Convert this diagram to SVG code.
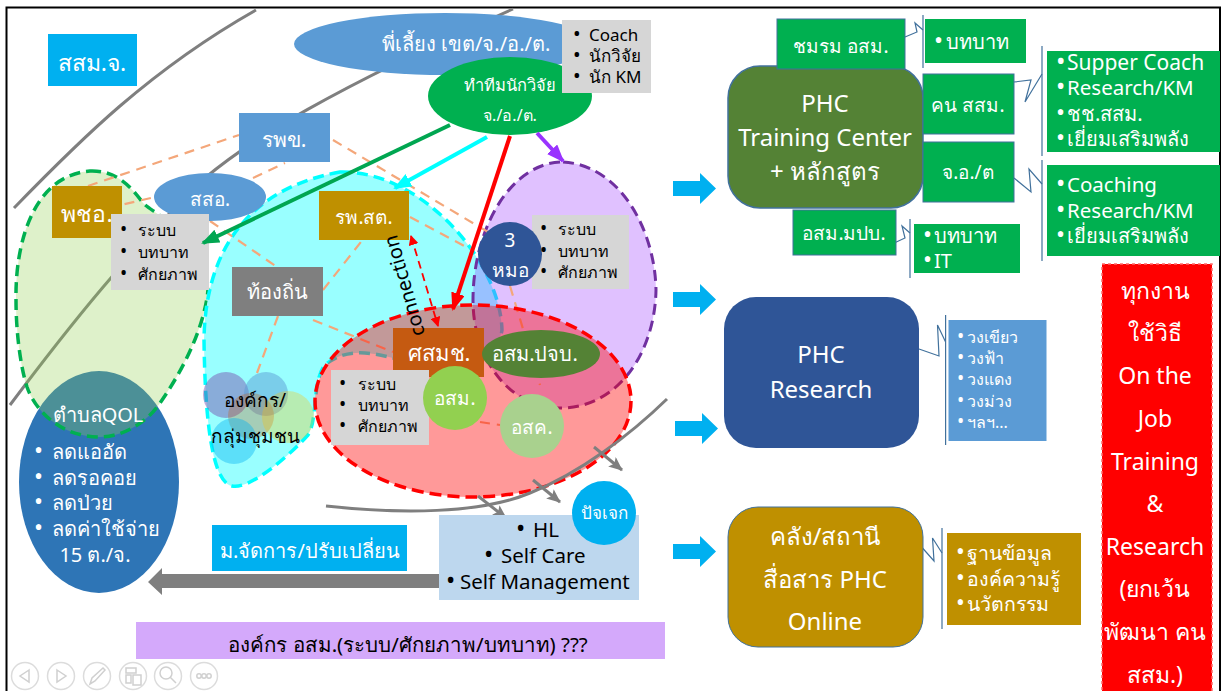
<svg xmlns="http://www.w3.org/2000/svg" width="1222" height="691" viewBox="0 0 1222 691">
<style>
text{font-family:"Noto Sans","Open Sans","DejaVu Sans",sans-serif;fill:#000}
.w{fill:#fff}
.m{text-anchor:middle}
.b{font-size:1.200em}
.curve{fill:none;stroke:#7f7f7f;stroke-width:3}
.or{stroke:#f4a77a;stroke-width:2.200;stroke-dasharray:10 7;fill:none}
.grey{fill:#d6d6d6}
.gr{fill:#00b050}
.call{fill:none;stroke:#41719c;stroke-width:1.200}
.bar{stroke:#41719c;stroke-width:1.200}
.tool{fill:#fff;stroke:#dcdcdc;stroke-width:1.500}
.ico{fill:none;stroke:#d0d0d0;stroke-width:1.500}
.ga{stroke:#7f7f7f;stroke-width:3;fill:none;marker-end:url(#gh)}
</style>
<defs>
<marker id="gh" markerUnits="userSpaceOnUse" markerWidth="14" markerHeight="12" refX="13" refY="6" orient="auto"><path d="M0,0L14,6L0,12L3,6Z" fill="#7f7f7f"/></marker>
<marker id="ggreen" markerUnits="userSpaceOnUse" markerWidth="18" markerHeight="14" refX="16" refY="7" orient="auto"><path d="M0,0L18,7L0,14Z" fill="#00a651"/></marker>
<marker id="gcyan" markerUnits="userSpaceOnUse" markerWidth="18" markerHeight="14" refX="16" refY="7" orient="auto"><path d="M0,0L18,7L0,14Z" fill="#00ffff"/></marker>
<marker id="gred" markerUnits="userSpaceOnUse" markerWidth="18" markerHeight="14" refX="16" refY="7" orient="auto"><path d="M0,0L18,7L0,14Z" fill="#ff0000"/></marker>
<marker id="gpur" markerUnits="userSpaceOnUse" markerWidth="18" markerHeight="14" refX="16" refY="7" orient="auto"><path d="M0,0L18,7L0,14Z" fill="#9933ff"/></marker>
<marker id="rs" markerUnits="userSpaceOnUse" markerWidth="10" markerHeight="10" refX="9" refY="5" orient="auto"><path d="M0,0L10,5L0,10Z" fill="#ff0000"/></marker>
<marker id="rb" markerUnits="userSpaceOnUse" markerWidth="10" markerHeight="10" refX="1" refY="5" orient="auto"><path d="M10,0L0,5L10,10Z" fill="#ff0000"/></marker>
<path id="ba" d="M0,8H27V0L43,15.500L27,31V23H0Z" fill="#00b0f0"/>
</defs>
<rect width="1222" height="691" fill="#fff"/>
<path d="M6.500,691V7.500H1220V691" fill="none" stroke="#000" stroke-width="2"/>

<g id="background-curves">
<path class="curve" d="M14,208C80,140 150,70 256,10"/>
<path class="curve" d="M10,405C70,325 130,250 205,178C250,140 330,90 513,9"/>
</g>

<g id="node-qol-ellipse"><ellipse cx="99" cy="482" rx="80" ry="111" fill="#2e75b6"/></g>
<g id="node-green-area"><path d="M90,171C115,170 130,185 143,203C155,215 190,225 208,290C205,320 190,360 160,403C145,425 120,437 100,437C60,437 35,410 27,387C20,365 16,330 16,300C15,240 35,175 90,171Z" fill="#92d050" fill-opacity=".3" stroke="#00b050" stroke-width="3.500" stroke-dasharray="11 6"/></g>
<g id="node-cyan-area"><path d="M340,172C420,170 500,260 502,330C500,345 480,360 440,362L393,358C370,352 345,348 325,365C312,380 318,420 308,435C290,455 250,490 232,486C212,482 205,420 204,340C205,260 240,190 340,172Z" fill="#99ffff" stroke="#00ffff" stroke-width="3.500" stroke-dasharray="11 6"/></g>
<g id="node-purple-area"><path d="M563,162C620,165 655,230 656,290C655,350 620,408 560,408C510,408 473,360 473,300C473,230 510,162 563,162Z" fill="#9933ff" fill-opacity=".3" stroke="#7030a0" stroke-width="3" stroke-dasharray="11 6"/></g>

<g id="connectors-dashed">
<path class="or" d="M88,186L239,135"/>
<path class="or" d="M108,208L155,197"/>
<path class="or" d="M253,178L285,163"/>
<path class="or" d="M333,140L488,232"/>
<path class="or" d="M210,221L277,267"/>
<path class="or" d="M323,290L368,233"/>
<path class="or" d="M278,316L257,373"/>
<path class="or" d="M313,320L393,352"/>
<path class="or" d="M410,217L472,250"/>
<path class="or" d="M510,286L540,385"/>
<path class="or" d="M480,422L500,425"/>
</g>

<g id="node-red-area"><ellipse cx="473" cy="401" rx="158" ry="96" fill="#ff0000" fill-opacity=".4" stroke="#ff0000" stroke-width="3.500" stroke-dasharray="12 6"/></g>

<g id="node-sorsomjor"><rect x="48" y="34" width="89" height="52" fill="#00b0f0"/><text class="w m" x="92" y="71" font-size="23">สสม.จ.</text></g>
<g id="node-phiilieng"><ellipse cx="445" cy="44" rx="151" ry="31" fill="#5b9bd5"/><text class="w m" x="466" y="51" font-size="20">พี่เลี้ยง เขต/จ./อ./ต.</text></g>
<g id="node-team"><ellipse cx="510" cy="96" rx="82" ry="39" fill="#00b050"/><text class="w m" x="510" y="91" font-size="16.500">ทำทีมนักวิจัย</text><text class="w m" x="510" y="121" font-size="16">จ./อ./ต.</text></g>
<g id="node-coach"><rect x="562" y="20" width="89" height="73" class="grey"/><text x="573" y="41" font-size="17"><tspan class="b">•</tspan><tspan x="589">Coach</tspan></text><text x="573" y="62" font-size="17"><tspan class="b">•</tspan><tspan x="589">นักวิจัย</tspan></text><text x="573" y="83" font-size="17"><tspan class="b">•</tspan><tspan x="589">นัก KM</tspan></text></g>
<g id="node-rpk"><rect x="239" y="113" width="91" height="49" fill="#5b9bd5"/><text class="w m" x="284" y="147" font-size="21">รพข.</text></g>
<g id="node-sso"><ellipse cx="210" cy="197" rx="56" ry="24" fill="#5b9bd5"/><text class="w m" x="210" y="206" font-size="19">สสอ.</text></g>
<g id="node-phcho"><rect x="52" y="186" width="70" height="52" fill="#bf9000"/><text class="w m" x="87" y="222" font-size="23">พชอ.</text></g>
<g id="node-bullets-1"><rect x="111" y="214" width="98" height="76" class="grey"/><text x="120" y="236" font-size="16"><tspan class="b">•</tspan><tspan x="138">ระบบ</tspan></text><text x="120" y="258" font-size="16"><tspan class="b">•</tspan><tspan x="138">บทบาท</tspan></text><text x="120" y="280" font-size="16"><tspan class="b">•</tspan><tspan x="138">ศักยภาพ</tspan></text></g>
<g id="node-rpsot"><rect x="319" y="191" width="90" height="49" fill="#bf9000"/><text class="w m" x="364" y="224" font-size="19">รพ.สต.</text></g>
<g id="node-local"><rect x="232" y="267" width="91" height="49" fill="#7f7f7f"/><text class="w m" x="277" y="299" font-size="20">ท้องถิ่น</text></g>
<g id="node-bullets-2-box"><rect x="532" y="215" width="97" height="74" class="grey"/></g>
<g id="node-3mor"><circle cx="510" cy="254" r="32" fill="#2f5597"/><text class="w m" x="510" y="247" font-size="19">3</text><text class="w m" x="510" y="277" font-size="19">หมอ</text></g>
<g id="node-bullets-2"><text x="540" y="235" font-size="16"><tspan class="b">•</tspan><tspan x="558">ระบบ</tspan></text><text x="540" y="257" font-size="16"><tspan class="b">•</tspan><tspan x="558">บทบาท</tspan></text><text x="540" y="278" font-size="16"><tspan class="b">•</tspan><tspan x="558">ศักยภาพ</tspan></text></g>

<g id="node-community">
<circle cx="226" cy="395" r="23" fill="#7030a0" fill-opacity=".4"/>
<circle cx="266" cy="394" r="22" fill="#5b9bd5" fill-opacity=".5"/>
<circle cx="251" cy="416" r="23" fill="#c55a11" fill-opacity=".3"/>
<circle cx="288" cy="417" r="26" fill="#ffc000" fill-opacity=".3"/>
<circle cx="234" cy="441" r="23" fill="#00b0f0" fill-opacity=".4"/>
<text class="m" x="255" y="407" font-size="19">องค์กร/</text>
<text class="m" x="255" y="443" font-size="19">กลุ่มชุมชน</text>
</g>

<g id="node-ossomchor"><rect x="393" y="328" width="91" height="49" fill="#c55a11"/><text class="w m" x="439" y="361" font-size="22">ศสมช.</text></g>
<g id="node-osm-pjb"><ellipse cx="541" cy="354" rx="59" ry="24" fill="#548235"/><text class="w m" x="535" y="361" font-size="20">อสม.ปจบ.</text></g>
<g id="node-bullets-3"><rect x="331" y="370" width="98" height="75" class="grey"/><text x="339" y="390" font-size="16"><tspan class="b">•</tspan><tspan x="358">ระบบ</tspan></text><text x="339" y="411" font-size="16"><tspan class="b">•</tspan><tspan x="358">บทบาท</tspan></text><text x="339" y="432" font-size="16"><tspan class="b">•</tspan><tspan x="358">ศักยภาพ</tspan></text></g>
<g id="node-osm"><circle cx="455" cy="398" r="32" fill="#92d050"/><text class="w m" x="455" y="405" font-size="19">อสม.</text></g>
<g id="node-osk"><circle cx="532" cy="426" r="32" fill="#a9d18e"/><text class="w m" x="532" y="434" font-size="19">อสค.</text></g>

<g id="node-qol-text">
<text class="w m" x="98" y="422" font-size="20">ตำบลQOL</text>
<text class="w" x="34" y="459" font-size="20"><tspan class="b">•</tspan><tspan x="52">ลดแออัด</tspan></text>
<text class="w" x="34" y="485" font-size="20"><tspan class="b">•</tspan><tspan x="52">ลดรอคอย</tspan></text>
<text class="w" x="34" y="510" font-size="20"><tspan class="b">•</tspan><tspan x="52">ลดป่วย</tspan></text>
<text class="w" x="34" y="536" font-size="20"><tspan class="b">•</tspan><tspan x="52">ลดค่าใช้จ่าย</tspan></text>
<text class="w m" x="95" y="562" font-size="20">15 ต./จ.</text>
</g>

<g id="connectors">
<path d="M450,125L203,243" stroke="#00a651" stroke-width="4" fill="none" marker-end="url(#ggreen)"/>
<path d="M487,137L395,188" stroke="#00ffff" stroke-width="4" fill="none" marker-end="url(#gcyan)"/>
<path d="M510,136L453,309" stroke="#ff0000" stroke-width="4" fill="none" marker-end="url(#gred)"/>
<path d="M537,133L563,161" stroke="#9933ff" stroke-width="4" fill="none" marker-end="url(#gpur)"/>
<path d="M411,236L438,326" stroke="#ff0000" stroke-width="1.800" stroke-dasharray="8 5" fill="none" marker-start="url(#rb)" marker-end="url(#rs)"/>
<path class="curve" d="M326,506C400,514 480,514 530,493C580,473 630,435 667,399"/>
<path class="ga" d="M478,496L506,518"/>
<path class="ga" d="M533,480L560,502"/>
<path class="ga" d="M594,447L622,470"/>
<path d="M440,574H162V568L148,582L162,595V588H440Z" fill="#7f7f7f"/>
<use href="#ba" x="673" y="173"/>
<use href="#ba" x="673" y="284"/>
<use href="#ba" x="675" y="413"/>
<use href="#ba" x="673" y="536"/>
<path class="call" d="M905,37L917,32L915,23L923,30"/><path class="bar" d="M923,15V68"/>
<path class="call" d="M1014,82L1031,80L1025,102L1042,74"/><path class="bar" d="M1042,46V156"/>
<path class="call" d="M1014,178L1031,192L1029,169L1042,184"/><path class="bar" d="M1042,160V261"/>
<path class="call" d="M892,244L905,238L902,226L910,233"/><path class="bar" d="M910,219V278"/>
<path class="call" d="M919,349L939,356L937.500,325L945.600,342"/><path class="bar" d="M945.600,315V445"/>
<path class="call" d="M921.600,547L934,561L932.500,538L942,553"/><path class="bar" d="M942,528V629"/>
</g>
<text id="label-connection" class="m" transform="translate(411,284) rotate(-106)" font-size="20">connection</text>

<g id="node-manage"><rect x="212" y="525" width="195" height="46" fill="#00b0f0"/><text class="w m" x="310" y="558" font-size="20">ม.จัดการ/ปรับเปลี่ยน</text></g>
<g id="node-self"><rect x="439" y="515" width="200" height="85" fill="#bdd7ee"/><text x="516" y="537" font-size="20.500"><tspan class="b">•</tspan><tspan x="533">HL</tspan></text><text x="484" y="563" font-size="20.500"><tspan class="b">•</tspan><tspan x="501">Self Care</tspan></text><text x="446" y="589" font-size="20.500"><tspan class="b">•</tspan><tspan x="460">Self Management</tspan></text></g>
<g id="node-individual"><circle cx="604" cy="513" r="32" fill="#00b0f0"/><text class="w m" x="604" y="519" font-size="17">ปัจเจก</text></g>
<g id="node-org"><rect x="136" y="622" width="529" height="37" fill="#d4a9fb"/><text class="m" x="408" y="652" font-size="20.500">องค์กร อสม.(ระบบ/ศักยภาพ/บทบาท) ???</text></g>

<g id="node-training"><rect x="728" y="66" width="195" height="142" rx="32" fill="#548235" stroke="#41719c" stroke-width="1.500"/><text class="w m" x="825" y="112" font-size="24">PHC</text><text class="w m" x="825" y="146" font-size="24">Training Center</text><text class="w m" x="825" y="180" font-size="24">+ หลักสูตร</text></g>
<g id="node-club"><rect x="777" y="19" width="128" height="50" class="gr" stroke="#41719c" stroke-width="1"/><text class="w m" x="841" y="53" font-size="19">ชมรม อสม.</text></g>
<g id="node-club-list"><rect x="925" y="19" width="101" height="44" class="gr"/><text class="w" x="934" y="49" font-size="20"><tspan class="b">•</tspan><tspan x="946">บทบาท</tspan></text></g>
<g id="node-staff"><rect x="923" y="74" width="91" height="60" class="gr" stroke="#41719c" stroke-width="1"/><text class="w m" x="968" y="112" font-size="19">คน สสม.</text></g>
<g id="node-staff-list"><rect x="1047" y="51" width="173" height="101" class="gr"/><text class="w" x="1056" y="70" font-size="21"><tspan class="b">•</tspan><tspan x="1067">Supper Coach</tspan></text><text class="w" x="1056" y="95" font-size="20.500"><tspan class="b">•</tspan><tspan x="1067">Research/KM</tspan></text><text class="w" x="1056" y="121" font-size="20"><tspan class="b">•</tspan><tspan x="1067">ชช.สสม.</tspan></text><text class="w" x="1056" y="146" font-size="20"><tspan class="b">•</tspan><tspan x="1067">เยี่ยมเสริมพลัง</tspan></text></g>
<g id="node-district"><rect x="923" y="142" width="91" height="60" class="gr" stroke="#41719c" stroke-width="1"/><text class="w m" x="968" y="179" font-size="19">จ.อ./ต</text></g>
<g id="node-district-list"><rect x="1047" y="165" width="173" height="91" class="gr"/><text class="w" x="1056" y="192" font-size="20.500"><tspan class="b">•</tspan><tspan x="1067">Coaching</tspan></text><text class="w" x="1056" y="218" font-size="20.500"><tspan class="b">•</tspan><tspan x="1067">Research/KM</tspan></text><text class="w" x="1056" y="243" font-size="20"><tspan class="b">•</tspan><tspan x="1067">เยี่ยมเสริมพลัง</tspan></text></g>
<g id="node-mpb"><rect x="793" y="210" width="103" height="45" class="gr" stroke="#41719c" stroke-width="1"/><text class="w m" x="844" y="240" font-size="19">อสม.มปบ.</text></g>
<g id="node-mpb-list"><rect x="914" y="224" width="106" height="49" class="gr"/><text class="w" x="923" y="243" font-size="20"><tspan class="b">•</tspan><tspan x="934">บทบาท</tspan></text><text class="w" x="923" y="268" font-size="20"><tspan class="b">•</tspan><tspan x="934">IT</tspan></text></g>

<g id="node-research"><rect x="724" y="297" width="195" height="151" rx="32" fill="#2f5597"/><text class="w m" x="821" y="363" font-size="24">PHC</text><text class="w m" x="821" y="398" font-size="24">Research</text></g>
<g id="node-research-list"><rect x="948.500" y="320" width="98" height="121" fill="#5b9bd5"/><text class="w" x="957" y="343" font-size="16"><tspan class="b">•</tspan><tspan x="967">วงเขียว</tspan></text><text class="w" x="957" y="364" font-size="16"><tspan class="b">•</tspan><tspan x="967">วงฟ้า</tspan></text><text class="w" x="957" y="385" font-size="16"><tspan class="b">•</tspan><tspan x="967">วงแดง</tspan></text><text class="w" x="957" y="407" font-size="16"><tspan class="b">•</tspan><tspan x="967">วงม่วง</tspan></text><text class="w" x="957" y="428" font-size="16"><tspan class="b">•</tspan><tspan x="967">ฯลฯ...</tspan></text></g>

<g id="node-online"><rect x="728" y="507" width="195" height="140" rx="30" fill="#bf9000" stroke="#41719c" stroke-width="1"/><text class="w m" x="825" y="545" font-size="24">คลัง/สถานี</text><text class="w m" x="825" y="588" font-size="24">สื่อสาร PHC</text><text class="w m" x="825" y="630" font-size="24">Online</text></g>
<g id="node-online-list"><rect x="947" y="533" width="134" height="92" fill="#bf9000"/><text class="w" x="956" y="560" font-size="19.500"><tspan class="b">•</tspan><tspan x="967">ฐานข้อมูล</tspan></text><text class="w" x="956" y="586" font-size="19.500"><tspan class="b">•</tspan><tspan x="967">องค์ความรู้</tspan></text><text class="w" x="956" y="611" font-size="19.500"><tspan class="b">•</tspan><tspan x="967">นวัตกรรม</tspan></text></g>

<g id="node-ojt"><rect x="1102" y="264" width="110" height="430" fill="#ff0000" stroke="#ff6b6b" stroke-width="1.500" stroke-dasharray="3 3"/>
<text class="w m" x="1155" y="299" font-size="23">ทุกงาน</text><text class="w m" x="1155" y="341" font-size="23">ใช้วิธี</text><text class="w m" x="1155" y="384" font-size="23">On the</text><text class="w m" x="1155" y="427" font-size="23">Job</text><text class="w m" x="1155" y="470" font-size="23">Training</text><text class="w m" x="1155" y="512" font-size="23">&amp;</text><text class="w m" x="1155" y="555" font-size="23">Research</text><text class="w m" x="1155" y="597" font-size="23">(ยกเว้น</text><text class="w m" x="1155" y="640" font-size="23">พัฒนา คน</text><text class="w m" x="1155" y="683" font-size="23">สสม.)</text></g>

<g id="toolbar">
<circle class="tool" cx="25" cy="676" r="13.500"/><path class="ico" d="M29,670L20,676L29,682Z"/>
<circle class="tool" cx="61" cy="676" r="13.500"/><path class="ico" d="M57,670L66,676L57,682Z"/>
<circle class="tool" cx="97" cy="676" r="13.500"/><path class="ico" d="M90,684L92,678L103,668L105,670L95,681Z"/>
<circle class="tool" cx="133" cy="676" r="13.500"/><path class="ico" d="M126,668H136V673H126ZM126,675H131V683H126ZM133,675H141V685H133Z"/>
<circle class="tool" cx="168" cy="676" r="13.500"/><circle class="ico" cx="166" cy="673" r="6"/><path class="ico" d="M170,677L176,683" stroke-width="2.500"/>
<circle class="tool" cx="204" cy="676" r="13.500"/><circle class="ico" cx="199" cy="676" r="2.200"/><circle class="ico" cx="204" cy="676" r="2.200"/><circle class="ico" cx="209" cy="676" r="2.200"/>
</g>
</svg>
